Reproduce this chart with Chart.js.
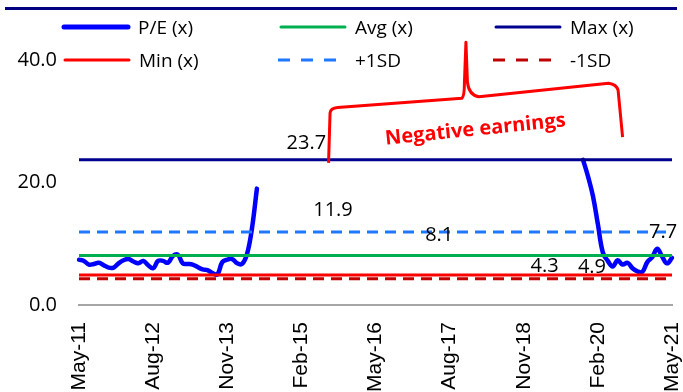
<!DOCTYPE html>
<html>
<head>
<meta charset="utf-8">
<script src="https://cdn.jsdelivr.net/npm/chart.js@4.4.1/dist/chart.umd.min.js"></script>
<style>
  html, body { margin: 0; padding: 0; background: #fff; }
  #wrap { position: relative; width: 683px; height: 392px; overflow: hidden; }
  #topRule { position: absolute; left: 5px; top: 7px; width: 672px; height: 3px; background: #000080; }
  .lg { position: absolute; height: 20px; display: flex; align-items: center;
        font-family: 'Open Sans', sans-serif; font-size: 19px; color: #000; white-space: nowrap; }
  .lg svg { margin-right: 7px; }
</style>
</head>
<body>
<div id="wrap">
  <canvas id="peChart" width="683" height="392"></canvas>
  <div id="topRule"></div>
  <div id="legend"></div>
</div>
<script>
/* --- data --- */
const MONTHS = ['Jan','Feb','Mar','Apr','May','Jun','Jul','Aug','Sep','Oct','Nov','Dec'];
const START_YEAR = 2011, START_MONTH = 4, N_MONTHS = 121;   // May-11 .. May-21

const tickLabels = ['May-11','Aug-12','Nov-13','Feb-15','May-16','Aug-17','Nov-18','Feb-20','May-21'];

// P/E before the loss-making stretch (May-11 .. May-14)
const peEarly = [7.4, 7.2, 6.6, 6.7, 6.9, 6.5, 6.1, 6.1, 6.8, 7.3, 7.5, 7.1, 6.8, 7.2, 6.5, 6.0,
                 7.2, 7.2, 6.9, 8.0, 8.2, 6.8, 6.7, 6.6, 6.2, 5.8, 5.7, 5.2, 5.0, 7.0, 7.4, 7.5,
                 6.8, 6.7, 8.3, 12.5, 19.0];
// P/E after earnings turned positive again (Nov-19 .. May-21)
const peLate = [23.7, 21.0, 17.8, 13.2, 8.6, 7.2, 6.3, 7.3, 6.6, 6.9, 6.0, 5.5, 5.4, 7.0, 7.8, 9.2, 7.9, 6.8, 7.7];
const GAP_MONTHS = 65;

const avgPE = 8.1;
const maxPE = 23.7;
const minPE = 4.9;
const plusSD = 11.9;
const minusSD = 4.3;

const valueLabels = ['23.7', '11.9', '8.1', '4.3', '4.9', '7.7'];
const valueLabelValues = [maxPE, plusSD, avgPE, minusSD, minPE, 7.7];

/* --- placement / styles --- */
const labelAt = [46, 51.4, 72.9, 94.2, 103.8, 118.2];   // category index for label centre
const labelLift = [17, 22, 20, 12, 8, 26];              // px above the anchor value

const COLORS = {
  pe: '#0000FF',
  avg: '#00B050',
  max: '#00008E',
  min: '#FF0000',
  plus: '#1F78FF',
  minus: '#C00000',
  axis: '#A6A6A6',
  note: '#FF0000'
};
const FONT = "'Open Sans', sans-serif";

const categories = [];
for (let k = 0; k < N_MONTHS; k++) {
  const m = (START_MONTH + k) % 12;
  const y = START_YEAR + Math.floor((START_MONTH + k) / 12);
  categories.push(MONTHS[m] + '-' + String(y).slice(2));
}
const peSeries = [...peEarly, ...Array(GAP_MONTHS).fill(null), ...peLate];
const flat = v => categories.map(() => v);

function lineDs(label, data, color, width, dash, order) {
  return {
    label, data, borderColor: color, backgroundColor: color,
    borderWidth: width, borderDash: dash || [], pointRadius: 0,
    pointHoverRadius: 0, fill: false, tension: 0, order
  };
}

/* --- annotations: value labels, brace and note --- */
const annotationPlugin = {
  id: 'peNotes',
  afterDatasetsDraw(chart) {
    const { ctx, scales: { x, y } } = chart;
    ctx.save();
    ctx.font = '20px ' + FONT;
    ctx.fillStyle = '#000';
    ctx.textAlign = 'center';
    ctx.textBaseline = 'middle';
    valueLabels.forEach((t, k) => {
      ctx.fillText(t, x.getPixelForValue(labelAt[k]), y.getPixelForValue(valueLabelValues[k]) - labelLift[k]);
    });

    // curly brace spanning the negative-earnings period
    const xL = x.getPixelForValue(50.5), yL = y.getPixelForValue(23.2);
    const xT = x.getPixelForValue(78.3), yT = y.getPixelForValue(42.9);
    const xR = x.getPixelForValue(110), yR = y.getPixelForValue(27.4);
    ctx.strokeStyle = COLORS.note;
    ctx.lineWidth = 3;
    ctx.lineJoin = 'round';
    ctx.beginPath();
    ctx.moveTo(xL, yL);
    ctx.lineTo(xL + 1.5, yL - 50);
    ctx.quadraticCurveTo(xL + 2, yL - 55, xL + 9, yL - 55.5);
    ctx.lineTo(xT - 4, yT + 56);
    ctx.quadraticCurveTo(xT - 1.5, yT + 54, xT - 1.5, yT + 40);
    ctx.lineTo(xT, yT);
    ctx.lineTo(xT + 1.5, yT + 40);
    ctx.quadraticCurveTo(xT + 3, yT + 53, xT + 13, yT + 54.5);
    ctx.lineTo(xR - 14, yR - 54);
    ctx.quadraticCurveTo(xR - 6, yR - 53, xR - 4.5, yR - 47);
    ctx.lineTo(xR, yR);
    ctx.stroke();

    ctx.translate(x.getPixelForValue(80.2), y.getPixelForValue(28.6));
    ctx.rotate(-5.8 * Math.PI / 180);
    ctx.font = 'bold 20px ' + FONT;
    ctx.fillStyle = COLORS.note;
    ctx.fillText('Negative earnings', 0, 0);
    ctx.restore();
  }
};

new Chart(document.getElementById('peChart'), {
  type: 'line',
  data: {
    labels: categories,
    datasets: [
      Object.assign(lineDs('P/E (x)', peSeries, COLORS.pe, 4.5, null, 6),
        { tension: 0.4, spanGaps: false, borderCapStyle: 'round', borderJoinStyle: 'round' }),
      lineDs('Avg (x)', flat(avgPE), COLORS.avg, 3, null, 5),
      lineDs('Max (x)', flat(maxPE), COLORS.max, 3, null, 4),
      lineDs('Min (x)', flat(minPE), COLORS.min, 3, null, 3),
      lineDs('+1SD', flat(plusSD), COLORS.plus, 3, [11, 7], 2),
      lineDs('-1SD', flat(minusSD), COLORS.minus, 3, [11, 7], 1)
    ]
  },
  options: {
    responsive: false,
    animation: false,
    layout: { autoPadding: false, padding: { left: 0, right: 11, top: 60, bottom: 0 } },
    plugins: { legend: { display: false }, tooltip: { enabled: false } },
    scales: {
      x: {
        grid: { display: false, drawTicks: false },
        border: { display: true, color: COLORS.axis, width: 2 },
        afterFit: s => { s.height = 87; s.paddingLeft = 0; s.paddingRight = 0; },
        ticks: {
          autoSkip: false,
          minRotation: 90,
          maxRotation: 90,
          padding: 17,
          color: '#000',
          font: { family: "'Liberation Sans', Arial, sans-serif", size: 21 },
          callback: function (v) {
            const l = this.getLabelForValue(v);
            return tickLabels.includes(l) ? l : '';
          }
        }
      },
      y: {
        min: 0,
        max: 40,
        grid: { display: false, drawTicks: false },
        border: { display: false },
        afterFit: s => { s.width = 79; s.paddingTop = 0; s.paddingBottom = 0; },
        ticks: {
          stepSize: 20,
          padding: 22,
          color: '#000',
          font: { family: FONT, size: 20 },
          callback: v => v.toFixed(1)
        }
      }
    }
  },
  plugins: [annotationPlugin]
});

/* --- legend (Excel style, overlaid on the plot) --- */
const legendItems = [
  { text: 'P/E (x)', color: COLORS.pe, width: 5, dash: null, x: 61, y: 17 },
  { text: 'Avg (x)', color: COLORS.avg, width: 3, dash: null, x: 278, y: 17 },
  { text: 'Max (x)', color: COLORS.max, width: 3, dash: null, x: 493, y: 17 },
  { text: 'Min (x)', color: COLORS.min, width: 3, dash: null, x: 62, y: 50 },
  { text: '+1SD', color: COLORS.plus, width: 3, dash: '12 11', x: 278, y: 50 },
  { text: '-1SD', color: COLORS.minus, width: 3, dash: '12 11', x: 493, y: 50 }
];
const legend = document.getElementById('legend');
legendItems.forEach(it => {
  const d = document.createElement('div');
  d.className = 'lg';
  d.style.left = it.x + 'px';
  d.style.top = it.y + 'px';
  const cap = it.dash ? 'butt' : 'round';
  d.innerHTML = `<svg width="70" height="8"><line x1="${it.dash ? 0 : 3}" y1="4" x2="${it.dash ? 58 : 67}" y2="4"
      stroke="${it.color}" stroke-width="${it.width}" stroke-linecap="${cap}"
      ${it.dash ? `stroke-dasharray="${it.dash}"` : ''}/></svg><span>${it.text}</span>`;
  legend.appendChild(d);
});
</script>
</body>
</html>
